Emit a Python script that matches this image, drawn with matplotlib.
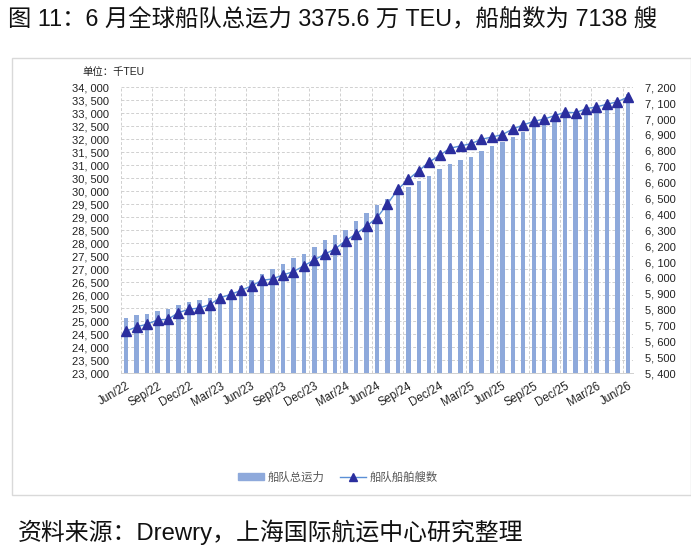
import matplotlib
matplotlib.use("Agg")
import matplotlib.pyplot as plt
import matplotlib.patches as mpatches
from matplotlib.lines import Line2D
import numpy as np

# ---- data ----
capacity = [25127, 25242, 25281, 25400, 25490, 25627, 25755, 25820, 25885, 26050,
            26180, 26346, 26590, 26821, 27013, 27205, 27423, 27603, 27846, 28128,
            28330, 28513, 28859, 29154, 29474, 29700, 29923, 30154, 30410, 30590,
            30846, 31051, 31204, 31320, 31563, 31742, 31910, 32100, 32292, 32473,
            32588, 32730, 32858, 32950, 33050, 33150, 33250, 33400, 33756]
ships = [5665, 5693, 5709, 5736, 5740, 5782, 5803, 5811, 5833, 5875,
         5897, 5922, 5951, 5985, 5994, 6019, 6040, 6077, 6113, 6150,
         6183, 6235, 6277, 6327, 6379, 6466, 6558, 6621, 6675, 6730,
         6772, 6817, 6831, 6845, 6873, 6887, 6902, 6938, 6963, 6986,
         7000, 7022, 7043, 7040, 7065, 7077, 7093, 7109, 7138]
tick_labels = ["Jun/22", "Sep/22", "Dec/22", "Mar/23", "Jun/23", "Sep/23", "Dec/23",
               "Mar/24", "Jun/24", "Sep/24", "Dec/24", "Mar/25", "Jun/25", "Sep/25",
               "Dec/25", "Mar/26", "Jun/26"]
label_step = 3
series_names = ["船队总运力", "船队船舶艘数"]
title = "图 11：6 月全球船队总运力 3375.6 万 TEU，船舶数为 7138 艘"
unit = "单位：千TEU"
source = "资料来源：Drewry，上海国际航运中心研究整理"

FONT = ["Liberation Sans", "Noto Sans CJK SC"]
plt.rcParams["font.family"] = FONT

W, H = 691, 554
fig = plt.figure(figsize=(W / 100, H / 100), dpi=100)

# chart frame
fig.add_artist(mpatches.Rectangle((12 / W, 1 - 495 / H), (W - 12) / W, (495 - 58) / H,
                                  transform=fig.transFigure, fill=False,
                                  edgecolor="#D9D9D9", linewidth=1.0))

left, right, top, bottom = 121, 633, 87.3, 373.3
ax = fig.add_axes([left / W, 1 - bottom / H, (right - left) / W, (bottom - top) / H])
ax2 = ax.twinx()

x = np.arange(len(capacity))
bar_color = "#8EA9DB"
ax.bar(x, capacity, width=0.42, color=bar_color, zorder=2)
ax.set_ylim(23000, 34000)
ax.set_xlim(-0.5, len(capacity) - 0.5)
ax.set_yticks(np.arange(23000, 34001, 500))
ax.set_yticklabels([f"{v:,}".replace(",", ", ") for v in range(23000, 34001, 500)],
                   fontsize=8, color="#222222")

ax2.plot(x, ships, color="#5B8FD6", linewidth=1.0, marker="^", markersize=7.5,
         markerfacecolor="#2B2E9E", markeredgecolor="#2B2E9E", zorder=3)
ax2.set_ylim(5400, 7200)
ax2.set_yticks(np.arange(5400, 7201, 100))
ax2.set_yticklabels([f"{v:,}".replace(",", ", ") for v in range(5400, 7201, 100)],
                    fontsize=8, color="#222222")

# grid: horizontal dashed at left ticks, vertical dashed every 3 categories
for v in range(23000, 34001, 500):
    ax.axhline(v, color="#D0D0D0", linestyle=(0, (3, 2)), linewidth=0.7, zorder=1)
for b in np.arange(-0.5, len(capacity), label_step):
    ax.axvline(b, color="#D0D0D0", linestyle=(0, (3, 2)), linewidth=0.7, zorder=1)

ax.set_xticks(x[::label_step])
ax.set_xticklabels(tick_labels, rotation=30, ha="right", rotation_mode="anchor",
                   fontsize=8.3, color="#222222")
ax.tick_params(axis="x", length=0, pad=5)
ax.tick_params(axis="y", length=0, pad=9)
ax2.tick_params(axis="y", length=0, pad=9)

for a in (ax, ax2):
    for s in a.spines.values():
        s.set_visible(False)
ax.spines["bottom"].set_visible(True)
ax.spines["bottom"].set_color("#D0D0D0")
ax.spines["bottom"].set_linewidth(0.7)

# texts
fig.text(8 / W, 1 - 19 / H, title, fontsize=16.8, va="center", ha="left", color="#111111")
fig.text(82 / W, 1 - 72 / H, unit, fontsize=7.5, va="center", ha="left", color="#222222")
fig.text(18 / W, 1 - 532 / H, source, fontsize=17.2, va="center", ha="left", color="#111111")

# legend
handles = [mpatches.Patch(color=bar_color),
           Line2D([0], [0], color="#5B8FD6", linewidth=1.0, marker="^", markersize=6,
                  markerfacecolor="#2B2E9E", markeredgecolor="#2B2E9E")]
fig.legend(handles, series_names, loc="center", bbox_to_anchor=(338 / W, 1 - 477 / H),
           ncol=2, frameon=False, fontsize=8.2, labelcolor="#555555",
           handlelength=2.3, handleheight=0.6, columnspacing=1.3, handletextpad=0.35)

fig.savefig("out.png", dpi=100)
